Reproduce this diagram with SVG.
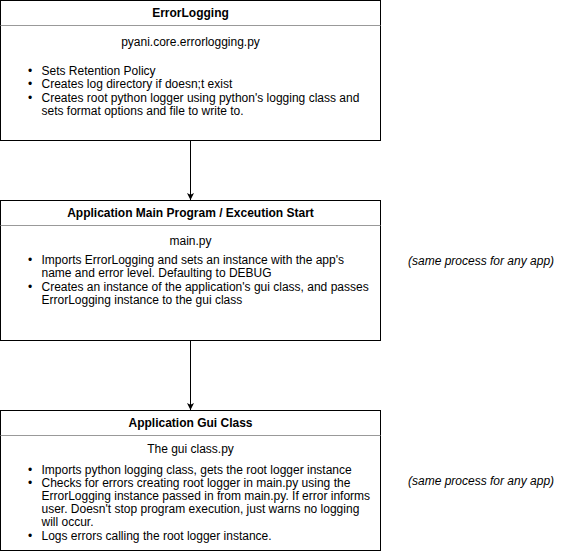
<svg xmlns="http://www.w3.org/2000/svg" width="566" height="551" viewBox="0 0 566 551">
<style>
  .box { fill: #ffffff; stroke: #000000; stroke-width: 1; }
  .sep { stroke: #999999; stroke-width: 1; fill: none; }
  .title { font-family: "Liberation Sans", Arial, Helvetica, sans-serif; font-size: 12px; font-weight: bold; fill: #000; text-anchor: middle; }
  .sub { font-family: "Liberation Sans", Arial, Helvetica, sans-serif; font-size: 12px; fill: #000; text-anchor: middle; }
  .body { font-family: "Liberation Sans", Arial, Helvetica, sans-serif; font-size: 12px; fill: #000; }
  .note { font-family: "Liberation Sans", Arial, Helvetica, sans-serif; font-size: 12px; font-style: italic; fill: #000; }
  .conn { stroke: #000; stroke-width: 1; fill: none; }
</style>
<defs>
  <marker id="arrow" viewBox="0 0 10 10" refX="10" refY="5" markerWidth="7" markerHeight="7" markerUnits="userSpaceOnUse" orient="auto">
    <path d="M0,0 L10,5 L0,10 L2.5,5 Z" fill="#000"/>
  </marker>
</defs>
<rect width="566" height="551" fill="#ffffff"/>

<g id="connectors">
  <line class="conn" x1="190.5" y1="140.5" x2="190.5" y2="200" marker-end="url(#arrow)"/>
  <line class="conn" x1="190.5" y1="340.5" x2="190.5" y2="410" marker-end="url(#arrow)"/>
</g>

<g id="errorlogging">
  <rect class="box" x="0.5" y="0.5" width="380" height="140"/>
  <line class="sep" x1="0.5" y1="25.5" x2="380.5" y2="25.5"/>
  <text class="title" x="190.5" y="17">ErrorLogging</text>
  <text class="sub" x="190.5" y="46">pyani.core.errorlogging.py</text>
  <text class="body" x="28" y="75">•</text>
  <text class="body" x="41.5" y="75">Sets Retention Policy</text>
  <text class="body" x="28" y="88">•</text>
  <text class="body" x="41.5" y="88">Creates log directory if doesn;t exist</text>
  <text class="body" x="28" y="102">•</text>
  <text class="body" x="41.5" y="102">Creates root python logger using python's logging class and</text>
  <text class="body" x="41.5" y="115">sets format options and file to write to.</text>
</g>

<g id="main-program">
  <rect class="box" x="0.5" y="200.5" width="380" height="140"/>
  <line class="sep" x1="0.5" y1="225.5" x2="380.5" y2="225.5"/>
  <text class="title" x="190.5" y="217">Application Main Program / Exceution Start</text>
  <text class="sub" x="190.5" y="245">main.py</text>
  <text class="body" x="28" y="264">•</text>
  <text class="body" x="41.5" y="264">Imports ErrorLogging and sets an instance with the app's</text>
  <text class="body" x="41.5" y="277">name and error level. Defaulting to DEBUG</text>
  <text class="body" x="28" y="291">•</text>
  <text class="body" x="41.5" y="291">Creates an instance of the application's gui class, and passes</text>
  <text class="body" x="41.5" y="304">ErrorLogging instance to the gui class</text>
</g>

<g id="gui-class">
  <rect class="box" x="0.5" y="410.5" width="380" height="140"/>
  <line class="sep" x1="0.5" y1="435.5" x2="380.5" y2="435.5"/>
  <text class="title" x="190.5" y="427">Application Gui Class</text>
  <text class="sub" x="190.5" y="453">The gui class.py</text>
  <text class="body" x="28" y="474">•</text>
  <text class="body" x="41.5" y="474">Imports python logging class, gets the root logger instance</text>
  <text class="body" x="28" y="487">•</text>
  <text class="body" x="41.5" y="487">Checks for errors creating root logger in main.py using the</text>
  <text class="body" x="41.5" y="500">ErrorLogging instance passed in from main.py. If error informs</text>
  <text class="body" x="41.5" y="513">user. Doesn't stop program execution, just warns no logging</text>
  <text class="body" x="41.5" y="526">will occur.</text>
  <text class="body" x="28" y="540">•</text>
  <text class="body" x="41.5" y="540">Logs errors calling the root logger instance.</text>
</g>

<g id="note-main">
  <text class="note" x="408" y="265">(same process for any app)</text>
</g>
<g id="note-gui">
  <text class="note" x="408" y="485">(same process for any app)</text>
</g>
</svg>
